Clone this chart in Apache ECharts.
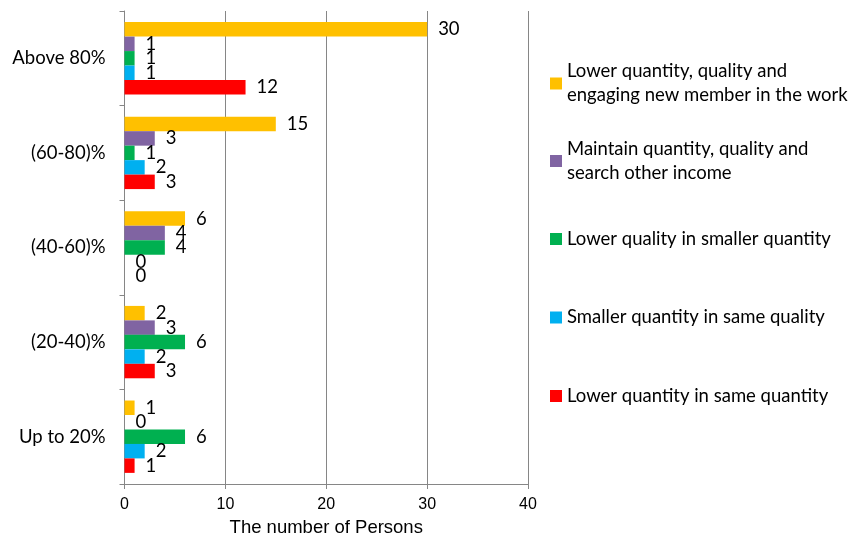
<!DOCTYPE html>
<html>
<head>
<meta charset="utf-8">
<script src="https://cdn.jsdelivr.net/npm/echarts@6/dist/echarts.min.js"></script>
<style>
  html, body { margin: 0; padding: 0; background: #fff; }
  #chart { width: 867px; height: 542px; }
</style>
</head>
<body>
<div id="chart"></div>
<script>
// Income groups, listed top to bottom
const categories = ['Above 80%', '(60-80)%', '(40-60)%', '(20-40)%', 'Up to 20%'];

// Coping strategies (series names)
const seriesNames = [
  'Lower quantity, quality and\nengaging new member in the work',
  'Maintain quantity, quality and\nsearch other income',
  'Lower quality in smaller quantity',
  'Smaller quantity in same quality',
  'Lower quantity in same quantity'
];

// Number of persons per group, one array per strategy
const lowerQtyQualityNewMember = [30, 15, 6, 2, 1];
const maintainSearchIncome     = [1, 3, 4, 3, 0];
const lowerQualitySmallerQty   = [1, 1, 4, 6, 6];
const smallerQtySameQuality    = [1, 2, 0, 2, 2];
const lowerQtySameQty          = [12, 3, 0, 3, 1];

const xTicks = [0, 10, 20, 30, 40];

const values = [
  lowerQtyQualityNewMember,
  maintainSearchIncome,
  lowerQualitySmallerQty,
  smallerQtySameQuality,
  lowerQtySameQty
];
const colors = ['#FFC000', '#8064A2', '#00B050', '#00B0F0', '#FF0000'];

const bodyFont = 'Lato, "Open Sans", sans-serif';
const axisFont = '"Liberation Sans", Arial, sans-serif';
const bodySize = 18.5;

// Legend marker centres (px from top) for each entry
const legendCentres = [83.5, 161, 239, 317.5, 396];

const legends = seriesNames.map((name, i) => {
  const twoLine = name.indexOf('\n') >= 0;
  return {
    data: [name],
    orient: 'vertical',
    left: 550,
    top: twoLine ? legendCentres[i] - 36 : legendCentres[i] - 12,
    padding: 0,
    itemWidth: 12,
    itemHeight: 12,
    itemGap: 0,
    icon: 'rect',
    selectedMode: false,
    textStyle: {
      fontFamily: bodyFont,
      fontSize: bodySize,
      color: '#000',
      lineHeight: 24,
      padding: twoLine ? [24, 0, 0, 0] : 0
    }
  };
});

const chart = echarts.init(document.getElementById('chart'), null, { renderer: 'canvas' });

chart.setOption({
  animation: false,
  backgroundColor: '#fff',
  legend: legends,
  grid: { left: 124.5, right: 339, top: 11, bottom: 52, containLabel: false },
  xAxis: {
    type: 'value',
    min: xTicks[0],
    max: xTicks[xTicks.length - 1],
    interval: xTicks[1] - xTicks[0],
    name: 'The number of Persons',
    nameLocation: 'middle',
    nameGap: 34,
    nameTextStyle: { fontFamily: axisFont, fontSize: 18.5, color: '#000' },
    axisLine: { show: true, lineStyle: { color: '#868686', width: 1 } },
    axisTick: { show: true, length: 5, lineStyle: { color: '#868686' } },
    axisLabel: { fontFamily: axisFont, fontSize: 16, color: '#000', margin: 13 },
    splitLine: { show: true, lineStyle: { color: '#868686', width: 1 } }
  },
  yAxis: {
    type: 'category',
    inverse: true,
    data: categories,
    axisLine: { show: true, lineStyle: { color: '#868686', width: 1 } },
    axisTick: { show: true, length: 5, lineStyle: { color: '#868686' } },
    axisLabel: { fontFamily: bodyFont, fontSize: bodySize, color: '#000', margin: 19 },
    splitLine: { show: false }
  },
  series: seriesNames.map((name, i) => ({
    type: 'bar',
    name: name,
    data: values[i],
    barGap: '0%',
    barCategoryGap: '23.5%',
    itemStyle: { color: colors[i] },
    label: {
      show: true,
      position: 'right',
      distance: 11,
      fontFamily: bodyFont,
      fontSize: bodySize,
      color: '#000'
    }
  }))
});
</script>
</body>
</html>
